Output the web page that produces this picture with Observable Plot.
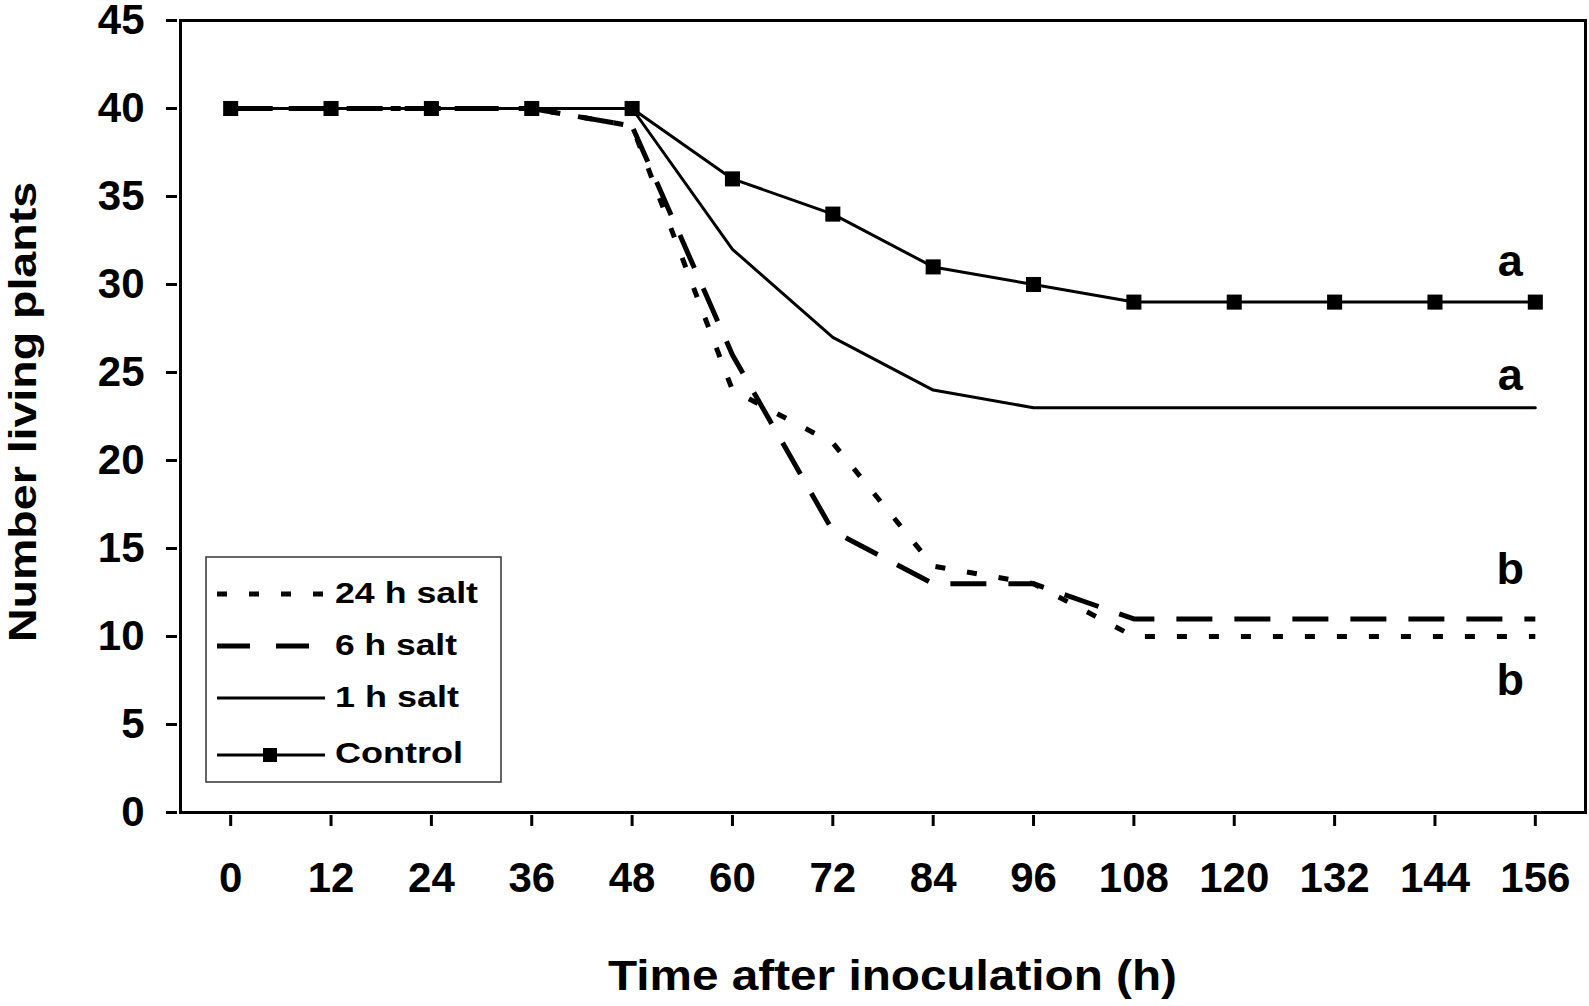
<!DOCTYPE html>
<html>
<head>
<meta charset="utf-8">
<script src="https://cdn.jsdelivr.net/npm/d3@7"></script>
<script src="https://cdn.jsdelivr.net/npm/@observablehq/plot@0.6"></script>
<style>
  html, body { margin: 0; padding: 0; background: white; }
  #chart { position: relative; width: 1589px; height: 1006px; }
</style>
</head>
<body>
<div id="chart"></div>
<script>
// ---- data ----
const times = [0, 12, 24, 36, 48, 60, 72, 84, 96, 108, 120, 132, 144, 156];
const control = [40, 40, 40, 40, 40, 36, 34, 31, 30, 29, 29, 29, 29, 29];
const salt1h  = [40, 40, 40, 40, 40, 32, 27, 24, 23, 23, 23, 23, 23, 23];
const salt6h  = [40, 40, 40, 40, 39, 26, 16, 13, 13, 11, 11, 11, 11, 11];
const salt24h = [40, 40, 40, 40, 39, 24, 21, 14, 13, 10, 10, 10, 10, 10];
const xTicks = [0, 12, 24, 36, 48, 60, 72, 84, 96, 108, 120, 132, 144, 156];
const yTicks = [0, 5, 10, 15, 20, 25, 30, 35, 40, 45];
const letters = ["a", "a", "b", "b"];
const letterX = [153, 153, 153, 153];
const letterY = [31.3, 24.8, 13.8, 7.5];
const seriesNames = ["24 h salt", "6 h salt", "1 h salt", "Control"];
const xTitle = "Time after inoculation (h)";
const yTitle = "Number living plants";

const rows = (vals) => times.map((t, i) => ({t, v: vals[i]}));
const FONT = "'Liberation Sans', Arial, Helvetica, sans-serif";

const plot = Plot.plot({
  width: 1589,
  height: 1006,
  marginLeft: 180,
  marginTop: 20,
  marginRight: 4,
  marginBottom: 194,
  x: {domain: [-6, 162]},
  y: {domain: [0, 45]},
  style: {fontFamily: FONT, background: "white", color: "black", overflow: "visible"},
  marks: [
    Plot.axisY({ticks: yTicks, tickSize: 11, tickPadding: 22, dx: -3, strokeWidth: 3, fontSize: 42, fontWeight: "bold", label: null, tickFormat: d => String(d)}),
    Plot.axisX({ticks: xTicks, tickSize: 11, tickPadding: 36, dy: 3, strokeWidth: 3, fontSize: 42, fontWeight: "bold", label: null, tickFormat: d => String(d)}),
    Plot.line(rows(salt24h), {x: "t", y: "v", stroke: "black", strokeWidth: 5, strokeDasharray: "10,22", strokeLinejoin: "miter", strokeLinecap: "butt"}),
    Plot.line(rows(salt6h), {x: "t", y: "v", stroke: "black", strokeWidth: 5, strokeDasharray: "36,22", strokeLinejoin: "miter", strokeLinecap: "butt"}),
    Plot.line(rows(salt1h), {x: "t", y: "v", stroke: "black", strokeWidth: 3, strokeLinejoin: "miter"}),
    Plot.line(rows(control), {x: "t", y: "v", stroke: "black", strokeWidth: 3, strokeLinejoin: "miter"}),
    Plot.dot(rows(control), {x: "t", y: "v", symbol: "square", r: 8.5, fill: "black", stroke: "none"}),
    Plot.text(letters, {x: (d, i) => letterX[i], y: (d, i) => letterY[i], text: d => d, fontSize: 45, fontWeight: "bold", fill: "black"}),
    Plot.frame({stroke: "black", strokeWidth: 3})
  ]
});

document.getElementById("chart").appendChild(plot);

const svg = d3.select(plot);

// ---- axis titles ----
svg.append("text")
  .attr("x", 608).attr("y", 990)
  .attr("text-anchor", "start")
  .attr("font-family", FONT).attr("font-weight", "bold").attr("font-size", 42)
  .attr("fill", "black")
  .attr("textLength", 569).attr("lengthAdjust", "spacingAndGlyphs")
  .text(xTitle);
svg.append("text")
  .attr("transform", "translate(36,642) rotate(-90)")
  .attr("x", 0).attr("y", 0)
  .attr("text-anchor", "start")
  .attr("font-family", FONT).attr("font-weight", "bold").attr("font-size", 38)
  .attr("fill", "black")
  .attr("textLength", 460).attr("lengthAdjust", "spacingAndGlyphs")
  .text(yTitle);

// ---- legend ----
const legendDash = ["10,22", "33,26", null, null];
const legendWidth = [5, 5, 3, 3];
const legendRowY = [594, 646, 698, 755];
const legendBase = [603, 655, 707, 763];
const legendTextLen = [143, 122, 124, 128];
const lg = svg.append("g").attr("aria-label", "legend");
lg.append("rect").attr("x", 206).attr("y", 557).attr("width", 295).attr("height", 225)
  .attr("fill", "white").attr("stroke", "#333").attr("stroke-width", 1.5);
seriesNames.forEach((name, i) => {
  const ln = lg.append("line").attr("x1", 217).attr("x2", 325)
    .attr("y1", legendRowY[i]).attr("y2", legendRowY[i])
    .attr("stroke", "black").attr("stroke-width", legendWidth[i]);
  if (legendDash[i]) ln.attr("stroke-dasharray", legendDash[i]);
  if (name === "Control") {
    lg.append("rect").attr("x", 270 - 7).attr("y", legendRowY[i] - 7).attr("width", 14).attr("height", 14).attr("fill", "black");
  }
  lg.append("text").attr("x", 335).attr("y", legendBase[i])
    .attr("text-anchor", "start")
    .attr("font-family", FONT).attr("font-weight", "bold").attr("font-size", 30)
    .attr("fill", "black")
    .attr("textLength", legendTextLen[i]).attr("lengthAdjust", "spacingAndGlyphs")
    .text(name);
});
</script>
</body>
</html>
